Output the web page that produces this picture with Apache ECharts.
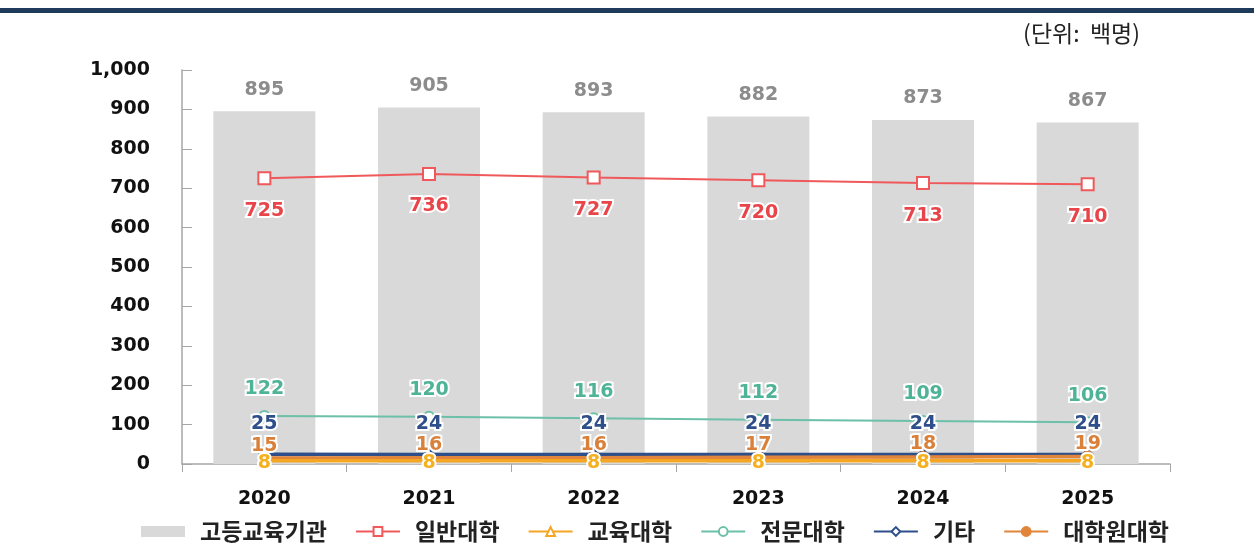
<!DOCTYPE html>
<html>
<head>
<meta charset="utf-8">
<script src="https://cdn.jsdelivr.net/npm/echarts@6/dist/echarts.min.js"></script>
<style>
  html, body { margin: 0; padding: 0; background: #fff; }
  #chart { width: 1254px; height: 558px; }
</style>
</head>
<body>
<div id="chart"></div>
<script>
;(function(){
	'use strict';

	// 연도
	var years = ['2020', '2021', '2022', '2023', '2024', '2025'];
	// 고등교육기관 (막대)
	var total = [895, 905, 893, 882, 873, 867];
	// 선 그래프
	var general = [725, 736, 727, 720, 713, 710];
	var education = [8, 8, 8, 8, 8, 8];
	var junior = [122, 120, 116, 112, 109, 106];
	var etc = [25, 24, 24, 24, 24, 24];
	var graduate = [15, 16, 16, 17, 18, 19];
	var yTicks = [0, 100, 200, 300, 400, 500, 600, 700, 800, 900, 1000];

	var numFont = 'DejaVu Sans';

	function lineLabel(color, pos, offsetY){
		return {
			show: true,
			position: pos,
			offset: [0, offsetY],
			color: color,
			fontFamily: numFont,
			fontWeight: 'bold',
			fontSize: 19,
			textBorderColor: '#fff',
			textBorderWidth: 4
		};
	}

	function lineSerie(name, data, color, symbol, symbolSize, fill, label, z, width){
		return {
			name: name,
			type: 'line',
			data: data,
			symbol: symbol,
			symbolSize: symbolSize,
			z: z,
			itemStyle: { color: fill, borderColor: color, borderWidth: 2 },
			lineStyle: { color: color, width: width },
			label: label
		};
	}

	var option = {
		animation: false,
		textStyle: { fontFamily: numFont },
		graphic: [
			{ type: 'rect', left: 0, top: 8, shape: { width: 1254, height: 5 }, style: { fill: '#1f3b5c' } },
			{ type: 'text', right: 114, top: 22,
				style: { text: '(단위:  백명)', fontSize: 23, fill: '#222', fontFamily: 'Noto Sans CJK KR' } }
		],
		grid: { left: 182, right: 84, top: 70, bottom: 94 },
		legend: {
			bottom: 10,
			left: 136,
			itemGap: 28,
			itemWidth: 44,
			itemHeight: 11,
			textStyle: { fontSize: 23, color: '#222', fontFamily: 'Noto Sans CJK KR', fontWeight: 'bold', padding: [0, 0, 0, 10] },
			data: [
				{ name: '고등교육기관', icon: 'rect', itemStyle: { color: '#d9d9d9' } },
				'일반대학', '교육대학', '전문대학', '기타', '대학원대학'
			]
		},
		xAxis: {
			type: 'category',
			data: years,
			axisLine: { lineStyle: { color: '#a6a6a6', width: 1.5 } },
			axisTick: { show: true, length: 8, lineStyle: { color: '#a6a6a6' } },
			axisLabel: { color: '#111', fontSize: 19, fontWeight: 'bold', fontFamily: numFont, margin: 26 }
		},
		yAxis: {
			type: 'value',
			min: yTicks[0],
			max: yTicks[yTicks.length - 1],
			interval: 100,
			splitLine: { show: false },
			axisLine: { show: true, lineStyle: { color: '#a6a6a6', width: 1.5 } },
			axisTick: { show: true, inside: true, length: 10, lineStyle: { color: '#a6a6a6' } },
			axisLabel: {
				color: '#111', fontSize: 19, fontWeight: 'bold', fontFamily: numFont, margin: 32,
				formatter: function(v){ return v.toLocaleString('en-US'); }
			}
		},
		series: [
			{
				name: '고등교육기관',
				type: 'bar',
				data: total,
				barWidth: 102,
				z: 1,
				itemStyle: { color: '#d9d9d9' },
				label: {
					show: true, position: 'top', distance: 12,
					color: '#8c8c8c', fontSize: 19, fontWeight: 'bold', fontFamily: numFont
				}
			},
			lineSerie('일반대학', general, '#f0595b', 'rect', 12, '#fff',
				lineLabel('#e8454a', 'bottom', 11), 5, 2),
			lineSerie('교육대학', education, '#f5a623', 'triangle', 10, '#fff',
				lineLabel('#f5b020', 'inside', 2), 9, 3.5),
			lineSerie('전문대학', junior, '#6cc0a8', 'circle', 10, '#fff',
				lineLabel('#4fb397', 'top', -6), 6, 2),
			lineSerie('기타', etc, '#2f4f8a', 'diamond', 10, '#fff',
				lineLabel('#2f4f8a', 'top', -10), 7, 3.5),
			lineSerie('대학원대학', graduate, '#e0853a', 'circle', 10, '#e0853a',
				lineLabel('#d9803a', 'top', 8), 8, 3.5)
		]
	};

	var myChart = echarts.init(document.getElementById('chart'));
	myChart.setOption(option);
})();
</script>
</body>
</html>
